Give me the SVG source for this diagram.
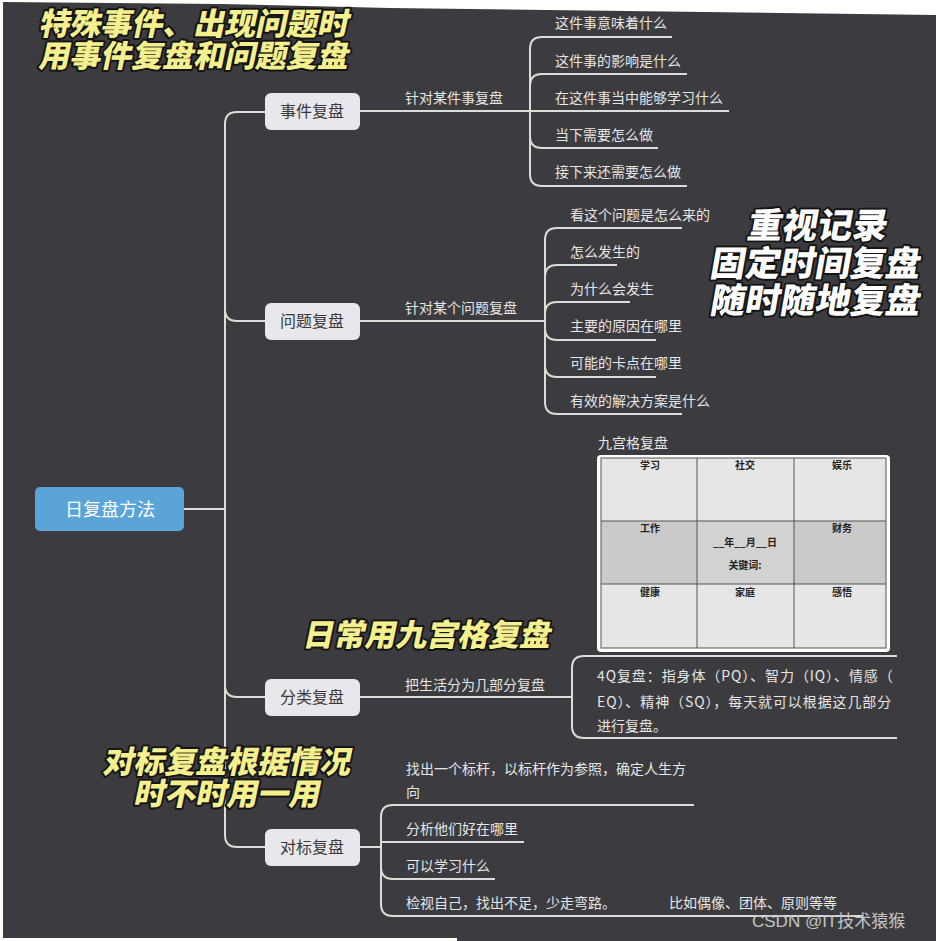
<svg xmlns="http://www.w3.org/2000/svg" width="936" height="941" viewBox="0 0 936 941">
<defs>
<style>
.t{font-family:"Noto Sans CJK SC","Noto Sans",sans-serif;font-size:14px;fill:#e6e6e6}
.c{fill:none;stroke:#dcdcdc;stroke-width:2}
.br rect{fill:#e8e8ec}
.br text{font-family:"Noto Sans CJK SC",sans-serif;font-size:16px;fill:#3a3a3a;text-anchor:middle}
.y{font-family:"Noto Sans CJK SC",sans-serif;font-weight:900;font-size:31px;fill:#f4f08e;stroke:#151515;stroke-width:4;paint-order:stroke;stroke-linejoin:round}
.w{font-family:"Noto Sans CJK SC",sans-serif;font-weight:900;font-size:35px;fill:#ffffff;stroke:#151515;stroke-width:4;paint-order:stroke;stroke-linejoin:round;text-anchor:middle}
.g{font-family:"Noto Sans CJK SC",serif;font-weight:700;font-size:10px;fill:#222;text-anchor:middle}
.gl{stroke:#555;stroke-width:1;fill:none}
</style>
</defs>
<rect width="936" height="941" fill="#ffffff"/>
<polygon points="3,2 220,4 390,8 936,15 936,941 457,941 457,938 3,938" fill="#3c3c40"/>

<g id="connectors">
<path class="c" d="M184,509 H225"/>
<path class="c" d="M265,112 H237 Q225,112 225,124 V835 Q225,847 237,847 H265"/>
<path class="c" d="M225,309 Q225,321 237,321 H265"/>
<path class="c" d="M225,685 Q225,697 237,697 H265"/>
<path class="c" d="M360,111 H530"/>
<path class="c" d="M530,111 V49 Q530,37 542,37 H672"/>
<path class="c" d="M530,111 V86 Q530,74 542,74 H687"/>
<path class="c" d="M530,111 H729"/>
<path class="c" d="M530,111 V136 Q530,148 542,148 H658"/>
<path class="c" d="M530,111 V174 Q530,186 542,186 H687"/>
<path class="c" d="M360,321 H545"/>
<path class="c" d="M545,321 V240 Q545,228 557,228 H682"/>
<path class="c" d="M545,321 V277 Q545,265 557,265 H617"/>
<path class="c" d="M545,321 V314 Q545,302 557,302 H630"/>
<path class="c" d="M545,321 V328 Q545,340 557,340 H656"/>
<path class="c" d="M545,321 V365 Q545,377 557,377 H656"/>
<path class="c" d="M545,321 V402 Q545,414 557,414 H682"/>
<path class="c" d="M360,697 H572"/>
<path class="c" d="M897,656 H584 Q572,656 572,668 V726 Q572,738 584,738 H897"/>
<path class="c" d="M360,847 H381"/>
<path class="c" d="M381,847 V817 Q381,805 393,805 H694"/>
<path class="c" d="M381,847 V842 H524"/>
<path class="c" d="M381,847 V867 Q381,879 393,879 H495"/>
<path class="c" d="M381,847 V904 Q381,916 393,916 H862"/>
</g>

<g id="root">
<rect x="35" y="487" width="149" height="44" rx="5" fill="#5ba4d8"/>
<text x="110" y="516" font-family="Noto Sans CJK SC,sans-serif" font-size="18" fill="#ffffff" text-anchor="middle">日复盘方法</text>
</g>

<g id="n-event" class="br"><rect x="265" y="93" width="95" height="37" rx="6"/><text x="312" y="117">事件复盘</text></g>
<g id="n-problem" class="br"><rect x="265" y="303" width="95" height="37" rx="6"/><text x="312" y="327">问题复盘</text></g>
<g id="n-category" class="br"><rect x="265" y="679" width="95" height="37" rx="6"/><text x="312" y="703">分类复盘</text></g>
<g id="n-bench" class="br"><rect x="265" y="829" width="95" height="37" rx="6"/><text x="312" y="853">对标复盘</text></g>

<g id="event-leaves">
<text class="t" x="405" y="103">针对某件事复盘</text>
<text class="t" x="555" y="28">这件事意味着什么</text>
<text class="t" x="555" y="66">这件事的影响是什么</text>
<text class="t" x="555" y="103">在这件事当中能够学习什么</text>
<text class="t" x="555" y="140">当下需要怎么做</text>
<text class="t" x="555" y="177">接下来还需要怎么做</text>
</g>

<g id="problem-leaves">
<text class="t" x="405" y="313">针对某个问题复盘</text>
<text class="t" x="570" y="220">看这个问题是怎么来的</text>
<text class="t" x="570" y="257">怎么发生的</text>
<text class="t" x="570" y="294">为什么会发生</text>
<text class="t" x="570" y="331">主要的原因在哪里</text>
<text class="t" x="570" y="368">可能的卡点在哪里</text>
<text class="t" x="570" y="406">有效的解决方案是什么</text>
</g>

<g id="nine-grid">
<text class="t" x="598" y="448">九宫格复盘</text>
<rect x="597" y="455" width="293" height="197" rx="4" fill="#ffffff"/>
<rect x="601" y="458" width="285" height="63" fill="#e6e6e6"/>
<rect x="601" y="521" width="285" height="63" fill="#cacaca"/>
<rect x="697" y="521" width="97" height="63" fill="#d2d2d2"/>
<rect x="601" y="584" width="285" height="64" fill="#e6e6e6"/>
<rect class="gl" x="601" y="458" width="285" height="190"/>
<path class="gl" d="M697,458 V648 M794,458 V648 M601,521 H886 M601,584 H886"/>
<text class="g" x="650" y="469">学习</text>
<text class="g" x="745" y="469">社交</text>
<text class="g" x="842" y="469">娱乐</text>
<text class="g" x="650" y="532">工作</text>
<text class="g" x="745" y="546" font-weight="400">__年__月__日</text>
<text class="g" x="745" y="569" font-weight="400">关键词:</text>
<text class="g" x="842" y="532">财务</text>
<text class="g" x="650" y="596">健康</text>
<text class="g" x="745" y="596">家庭</text>
<text class="g" x="842" y="596">感悟</text>
</g>

<g id="category-leaves">
<text class="t" x="405" y="690">把生活分为几部分复盘</text>
<text class="t" x="597" y="681" letter-spacing="0.9">4Q复盘：指身体（PQ）、智力（IQ）、情感（</text>
<text class="t" x="597" y="707" letter-spacing="0.9">EQ）、精神（SQ），每天就可以根据这几部分</text>
<text class="t" x="597" y="731">进行复盘。</text>
</g>

<g id="bench-leaves">
<text class="t" x="406" y="774">找出一个标杆，以标杆作为参照，确定人生方</text>
<text class="t" x="406" y="797">向</text>
<text class="t" x="406" y="834">分析他们好在哪里</text>
<text class="t" x="406" y="871">可以学习什么</text>
<text class="t" x="406" y="908">检视自己，找出不足，少走弯路。</text>
<text class="t" x="669" y="908">比如偶像、团体、原则等等</text>
</g>

<g id="annotations">
<text class="y" transform="translate(38,35) skewX(-12)" font-size="32">特殊事件、出现问题时</text>
<text class="y" transform="translate(38,67) skewX(-12)" font-size="32">用事件复盘和问题复盘</text>
<text class="w" transform="translate(816,238) skewX(-10)">重视记录</text>
<text class="w" transform="translate(814,276) skewX(-10)">固定时间复盘</text>
<text class="w" transform="translate(814,313) skewX(-10)">随时随地复盘</text>
<text class="y" transform="translate(302,646) skewX(-12)">日常用九宫格复盘</text>
<text class="y" transform="translate(226,773) skewX(-12)" text-anchor="middle">对标复盘根据情况</text>
<text class="y" transform="translate(226,805) skewX(-12)" text-anchor="middle">时不时用一用</text>
</g>

<text x="752" y="927" font-family="Liberation Sans,Noto Sans CJK SC,sans-serif" font-size="17" fill="#c4c4c4">CSDN @IT技术猿猴</text>
</svg>
